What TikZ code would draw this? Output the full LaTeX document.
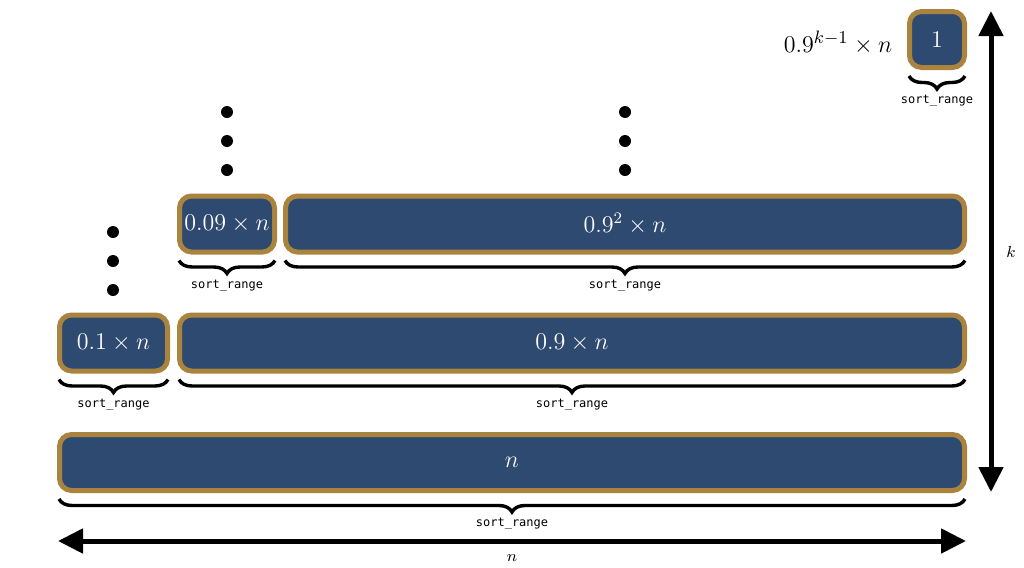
\documentclass[tikz,border=0pt]{standalone}
\usepackage{fontspec}
\newfontfamily\monofont{DejaVu Sans Mono}
\usetikzlibrary{arrows.meta,decorations.pathreplacing,calc}
\definecolor{boxblue}{RGB}{46,74,113}
\definecolor{boxgold}{RGB}{170,131,62}
\tikzset{
  block/.style={draw=boxgold, fill=boxblue, line width=2.5pt, rounded corners=6pt,
    text=white, inner sep=1pt, minimum height=28pt, font=\fontsize{12}{14}\selectfont},
  rangebrace/.style={decorate, decoration={brace, mirror, amplitude=6.5pt}, line width=1.7pt},
  rangelbl/.style={font=\fontsize{6}{7}\selectfont\monofont, inner sep=0pt},
  dimarrow/.style={{Triangle[length=12.5pt,width=12pt]}-{Triangle[length=12.5pt,width=12pt]}, line width=2.5pt},
  dimlbl/.style={font=\fontsize{8}{9}\selectfont, inner sep=0pt},
  dot/.style={circle, fill=black, inner sep=0pt, minimum size=6pt},
}
\begin{document}
\begin{tikzpicture}[x=0.5pt,y=-0.5pt]
\useasboundingbox (0,0) rectangle (1024,568);
% boxes
\node[block, minimum width=452.5pt] (b0) at (512,462.5) {$n$};
\node[block, minimum width=54pt] (b1s) at (113.5,343) {$0.1\times n$};
\node[block, minimum width=392.5pt] (b1l) at (572,343) {$0.9\times n$};
\node[block, minimum width=47.5pt] (b2s) at (227,224) {$0.09\times n$};
\node[block, minimum width=339.5pt] (b2l) at (625,224) {$0.9^2\times n$};
\node[block, minimum width=27.5pt] (b3) at (937,39.5) {$1$};
% braces and labels
\foreach \b in {b0,b1s,b1l,b2s,b2l,b3}{
  \draw[rangebrace] ([xshift=1pt,yshift=-3pt]\b.south west) -- ([xshift=-1pt,yshift=-3pt]\b.south east);
  \node[rangelbl] (\b-lbl) at ([yshift=-15.5pt]\b.south) {sort\_range};
}
% top label
\node[font=\fontsize{12.5}{14}\selectfont] (toplbl) at (838,43) {$0.9^{k-1}\times n$};
% dots
\foreach \i/\y in {1/232,2/261,3/290}{ \node[dot] (da\i) at (113,\y) {}; }
\foreach \i/\y in {1/112,2/141,3/170}{ \node[dot] (db\i) at (227,\y) {}; }
\foreach \i/\y in {1/112,2/141,3/170}{ \node[dot] (dc\i) at (625,\y) {}; }
% dimension arrows
\coordinate (hl) at (58,541);
\coordinate (hr) at (966,541);
\draw[dimarrow] (hl) -- (hr);
\node[dimlbl] (nlbl) at (512,558) {$n$};
\coordinate (vt) at (991,11);
\coordinate (vb) at (991,492);
\draw[dimarrow] (vt) -- (vb);
\node[dimlbl] (klbl) at (1011,252) {$k$};
\end{tikzpicture}
\end{document}
